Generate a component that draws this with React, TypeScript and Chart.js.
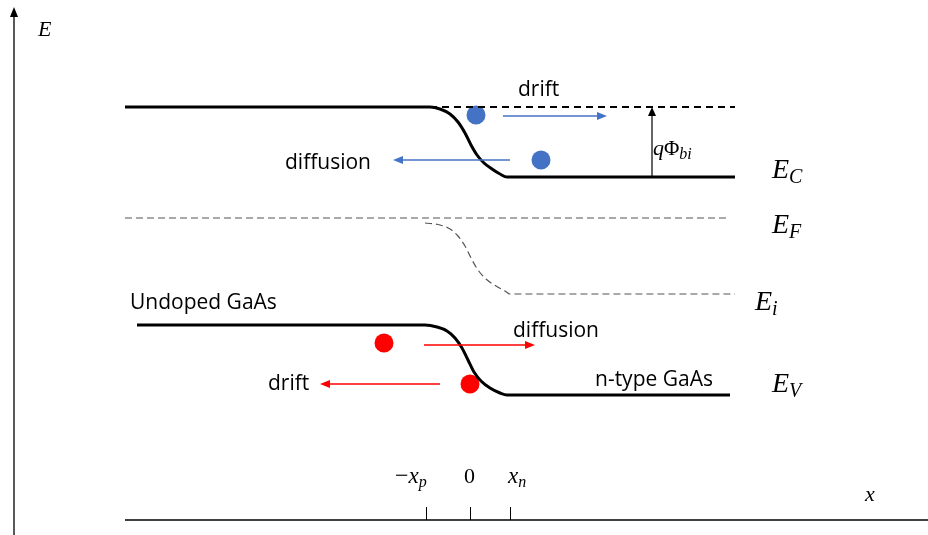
import { useEffect, useRef } from "react";
import { Chart, registerables } from "chart.js";
Chart.register(...registerables);

// Diagram coordinates: x = position along the junction, y = energy (drawn downward)
const ecX = [125, 430, 440, 450, 458, 465, 471, 477, 484, 492, 500, 507, 510, 735];
const ecY = [107, 107, 109, 114, 122, 133, 145, 155, 163, 169, 174, 177, 177, 177];
const ecRefX = [430, 735];
const ecRefY = [107, 107];
const efX = [125, 730];
const efY = [218, 218];
const eiX = [425, 440, 450, 458, 465, 471, 478, 486, 496, 505, 510, 735];
const eiY = [223, 225, 229, 236, 246, 258, 270, 279, 286, 291, 294, 294];
const evX = [137, 425, 437, 447, 455, 462, 468, 474, 481, 490, 500, 507, 510, 730];
const evY = [325, 325, 327, 331, 338, 348, 360, 372, 381, 388, 393, 395, 395, 395];

const electronX = [476, 541];
const electronY = [115, 160];
const holeX = [384, 470];
const holeY = [343, 384];

const tickX = [426, 470, 510];
const tickMain = ["x", "0", "x"];
const tickPrefix = ["−", "", ""];
const tickSub = ["p", "", "n"];
const tickLabelX = [395, 464, 508];

const bandMain = ["E", "E", "E", "E"];
const bandSub = ["C", "F", "i", "V"];
const bandX = [772, 772, 755, 772];
const bandY = [178, 233, 310, 392];

const textLabels = ["drift", "diffusion", "diffusion", "drift", "Undoped GaAs", "n-type GaAs"];
const textX = [518, 285, 513, 268, 130, 595];
const textY = [96, 169, 337, 390, 309, 386];

const arrowFromX = [503, 510, 424, 440];
const arrowToX = [607, 393, 535, 320];
const arrowY = [116, 160, 345, 384];
const arrowColors = ["#4472C4", "#4472C4", "#FF0000", "#FF0000"];

const BLUE = "#4472C4";
const RED = "#FF0000";
const SERIF = '"Liberation Serif", "DejaVu Serif", serif';
const SANS = '"Open Sans", "Noto Sans", sans-serif';

type Part = { t: string; font: string; dy?: number };

function drawParts(ctx: CanvasRenderingContext2D, x: number, y: number, parts: Part[]) {
  let cx = x;
  for (const p of parts) {
    ctx.font = p.font;
    ctx.fillText(p.t, cx, y + (p.dy || 0));
    cx += ctx.measureText(p.t).width;
  }
}

function arrow(ctx: CanvasRenderingContext2D, x1: number, y1: number, x2: number, y2: number, color: string, lw: number, hl: number, hw: number) {
  const ang = Math.atan2(y2 - y1, x2 - x1);
  ctx.strokeStyle = color;
  ctx.fillStyle = color;
  ctx.lineWidth = lw;
  ctx.setLineDash([]);
  ctx.beginPath();
  ctx.moveTo(x1, y1);
  ctx.lineTo(x2 - Math.cos(ang) * hl * 0.8, y2 - Math.sin(ang) * hl * 0.8);
  ctx.stroke();
  ctx.beginPath();
  ctx.moveTo(x2, y2);
  ctx.lineTo(x2 - Math.cos(ang) * hl + Math.sin(ang) * hw, y2 - Math.sin(ang) * hl - Math.cos(ang) * hw);
  ctx.lineTo(x2 - Math.cos(ang) * hl - Math.sin(ang) * hw, y2 - Math.sin(ang) * hl + Math.cos(ang) * hw);
  ctx.closePath();
  ctx.fill();
}

const pts = (xs: number[], ys: number[]) => xs.map((x, i) => ({ x, y: ys[i] }));

const overlay = {
  id: "bandOverlay",
  afterDatasetsDraw(chart: any) {
    const ctx: CanvasRenderingContext2D = chart.ctx;
    const sx = chart.scales.x;
    const sy = chart.scales.y;
    const X = (v: number) => sx.getPixelForValue(v);
    const Y = (v: number) => sy.getPixelForValue(v);
    ctx.save();
    ctx.lineCap = "butt";
    // energy axis
    arrow(ctx, X(14), Y(535), X(14), Y(7), "#000", 1.3, 10, 4);
    // position axis
    ctx.strokeStyle = "#000";
    ctx.lineWidth = 1.3;
    ctx.beginPath();
    ctx.moveTo(X(125), Y(520));
    ctx.lineTo(X(928), Y(520));
    ctx.stroke();
    ctx.lineWidth = 1;
    tickX.forEach((tx) => {
      ctx.beginPath();
      ctx.moveTo(Math.round(X(tx)) + 0.5, Y(507));
      ctx.lineTo(Math.round(X(tx)) + 0.5, Y(520));
      ctx.stroke();
    });
    // built-in potential arrow
    arrow(ctx, X(652), Y(177), X(652), Y(107), "#000", 1.2, 9, 4);
    // carrier arrows
    arrowFromX.forEach((fx, i) => {
      arrow(ctx, X(fx), Y(arrowY[i]), X(arrowToX[i]), Y(arrowY[i]), arrowColors[i], 1.3, 10, 4);
    });

    ctx.fillStyle = "#000";
    ctx.textBaseline = "alphabetic";
    // axis labels
    drawParts(ctx, X(38), Y(36), [{ t: "E", font: `italic 22px ${SERIF}` }]);
    drawParts(ctx, X(865), Y(501), [{ t: "x", font: `italic 22px ${SERIF}` }]);
    tickMain.forEach((m, i) => {
      const parts: Part[] = [];
      if (tickPrefix[i]) parts.push({ t: tickPrefix[i], font: `24px ${SERIF}` });
      parts.push({ t: m, font: m === "0" ? `22px ${SERIF}` : `italic 23px ${SERIF}` });
      if (tickSub[i]) parts.push({ t: tickSub[i], font: `italic 16px ${SERIF}`, dy: 4 });
      drawParts(ctx, X(tickLabelX[i]), Y(483), parts);
    });
    // band labels
    bandMain.forEach((m, i) => {
      drawParts(ctx, X(bandX[i]), Y(bandY[i]), [
        { t: m, font: `italic 28px ${SERIF}` },
        { t: bandSub[i], font: `italic 20px ${SERIF}`, dy: 5 },
      ]);
    });
    // q Phi_bi
    drawParts(ctx, X(653), Y(155), [
      { t: "q", font: `italic 22px ${SERIF}` },
      { t: "Φ", font: `21px ${SERIF}` },
      { t: "bi", font: `italic 16px ${SERIF}`, dy: 4 },
    ]);
    // text labels
    ctx.font = `21px ${SANS}`;
    textLabels.forEach((t, i) => {
      ctx.fillText(t, X(textX[i]), Y(textY[i]));
    });
    ctx.restore();
  },
};

export default function App() {
  const ref = useRef<HTMLCanvasElement | null>(null);
  useEffect(() => {
    document.body.style.margin = "0";
    const canvas = ref.current!;
    const chart = new Chart(canvas, {
      type: "scatter",
      data: {
        datasets: [
          { data: pts(ecX, ecY), showLine: true, borderColor: "#000", borderWidth: 3, pointRadius: 0, cubicInterpolationMode: "monotone" } as any,
          { data: pts(ecRefX, ecRefY), showLine: true, borderColor: "#000", borderWidth: 2, borderDash: [7, 5], pointRadius: 0 } as any,
          { data: pts(efX, efY), showLine: true, borderColor: "#555", borderWidth: 1.2, borderDash: [7, 4], pointRadius: 0 } as any,
          { data: pts(eiX, eiY), showLine: true, borderColor: "#555", borderWidth: 1.2, borderDash: [7, 4], pointRadius: 0, cubicInterpolationMode: "monotone" } as any,
          { data: pts(evX, evY), showLine: true, borderColor: "#000", borderWidth: 3, pointRadius: 0, cubicInterpolationMode: "monotone" } as any,
          { data: pts(electronX, electronY), showLine: false, pointRadius: 9.5, backgroundColor: BLUE, borderColor: BLUE, borderWidth: 0 } as any,
          { data: pts(holeX, holeY), showLine: false, pointRadius: 9.5, backgroundColor: RED, borderColor: RED, borderWidth: 0 } as any,
        ],
      },
      options: {
        responsive: false,
        animation: false,
        layout: { padding: 0, autoPadding: false },
        plugins: { legend: { display: false }, tooltip: { enabled: false } },
        events: [],
        scales: {
          x: { type: "linear", min: 0, max: 928, display: false },
          y: { type: "linear", min: 0, max: 535, reverse: true, display: false },
        },
      },
      plugins: [overlay],
    });
    return () => chart.destroy();
  }, []);
  return <canvas ref={ref} width={928} height={535} style={{ display: "block" }} />;
}
